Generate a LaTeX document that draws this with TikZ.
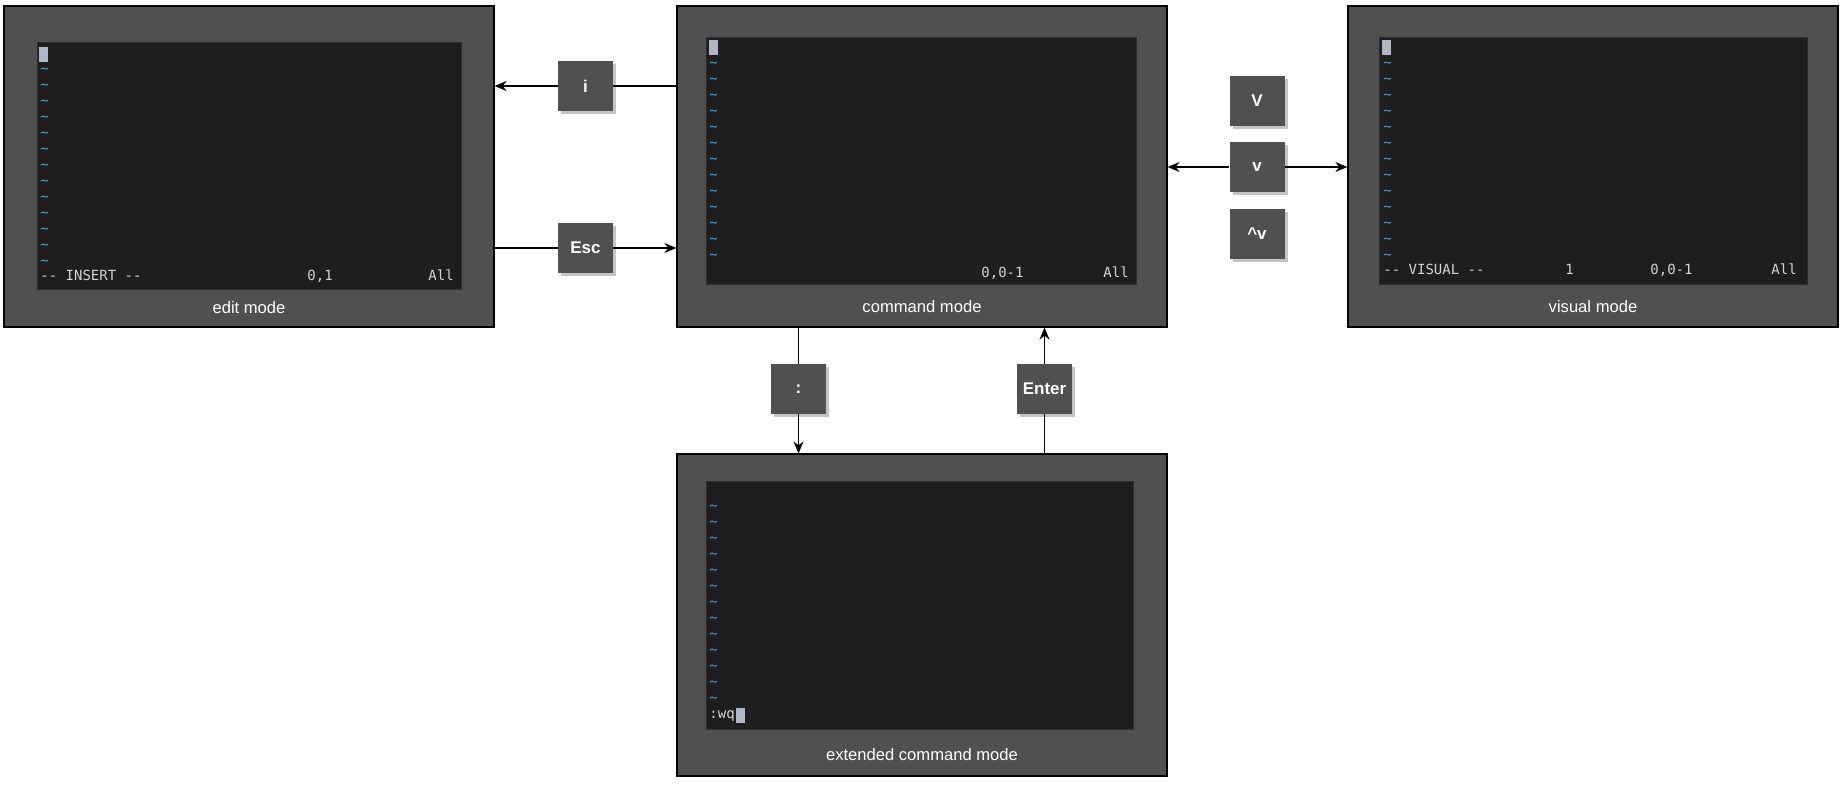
\documentclass[tikz,border=0pt]{standalone}
\usepackage{fontspec}
\setmainfont{Liberation Sans}
\newfontfamily\vimfont{DejaVu Sans Mono}
\usetikzlibrary{arrows.meta,positioning,shadows}
\definecolor{panel}{HTML}{505050}
\definecolor{screenbg}{HTML}{1E1E1E}
\definecolor{screenedge}{HTML}{2C2C2C}
\definecolor{tildeblue}{HTML}{569CD6}
\definecolor{vimtext}{HTML}{D4D4D4}
\definecolor{cursorgray}{HTML}{B4B4C8}
\definecolor{keyshadow}{HTML}{C4C4C4}

\begin{document}
\begin{tikzpicture}[x=0.5pt,y=-0.5pt]
\tikzstyle{modebox}=[rectangle, draw=black, fill=panel, line width=0.6pt,
	minimum width=245pt, minimum height=160.5pt, inner sep=0pt]
\tikzstyle{screenbox}=[rectangle, draw=screenedge, fill=screenbg, line width=0.5pt,
	minimum height=123.5pt, inner sep=0pt]
\tikzstyle{modelabel}=[text=white, inner sep=0pt, font=\fontsize{8.3}{10}\selectfont]
\tikzstyle{keybox}=[rectangle, fill=panel, text=white, minimum width=27.5pt,
	minimum height=25pt, inner sep=0pt, font=\fontsize{8.5}{10}\selectfont\bfseries,
	drop shadow={shadow xshift=1.5pt, shadow yshift=-1.5pt, fill=keyshadow, opacity=1}]
\tikzstyle{vimtxt}=[anchor=west, inner sep=0pt, text height=5pt, text depth=1.5pt,
	text=vimtext, font=\vimfont\fontsize{7}{8}\selectfont]
\tikzstyle{tildetxt}=[vimtxt, text=tildeblue]
\tikzstyle{plain}=[line width=0.6pt]
\tikzstyle{conn}=[plain, -{Stealth[length=6pt,width=5pt]}]
\useasboundingbox (0,0) rectangle (1844,786);

% the four vim windows
\node[modebox] (edit) at (249,166.5) {};
\node[modebox] (cmd) at (922,166.5) {};
\node[modebox] (vis) at (1593,166.5) {};
\node[modebox, minimum height=161pt] (ext) at (922,615) {};
\node[screenbox, minimum width=212pt] (editscr) at (249,166.5) {};
\node[screenbox, minimum width=215pt] (cmdscr) at (921,161.5) {};
\node[screenbox, minimum width=214pt] (visscr) at (1593,161.5) {};
\node[screenbox, minimum width=213.5pt] (extscr) at (919.5,605.5) {};
\node[modelabel] at ([yshift=10pt]edit.south) {edit mode};
\node[modelabel] at ([yshift=10.5pt]cmd.south) {command mode};
\node[modelabel] at ([yshift=10.5pt]vis.south) {visual mode};
\node[modelabel] at ([yshift=11pt]ext.south) {extended command mode};

% screen contents
\foreach \x/\y in {40/70, 709/64, 1383/64, 709/507}
	\foreach \k in {0,...,12}
		\node[tildetxt] at (\x,\y+16*\k) {\textasciitilde};
\foreach \x/\y in {39/47, 709/40, 1382/40}
	\fill[cursorgray] (\x,\y) rectangle +(9,15);
\node[vimtxt] at (40,277) {-- INSERT --};
\node[vimtxt] at (307,277) {0,1};
\node[vimtxt] at (428,277) {All};
\node[vimtxt] at (981,274) {0,0-1};
\node[vimtxt] at (1103,274) {All};
\node[vimtxt] at (1383,271) {-- VISUAL --};
\node[vimtxt] at (1565,271) {1};
\node[vimtxt] at (1650,271) {0,0-1};
\node[vimtxt] at (1771,271) {All};
\node[vimtxt] (wq) at (709,715) {:wq};
\fill[cursorgray] ([xshift=0.5pt]wq.east) ++(0,-7.5) rectangle +(9,15);

% keys
\node[keybox] (ikey) at (585.5,86) {i};
\node[keybox, below of=ikey, node distance=81pt] (esckey) {Esc};
\node[keybox] (vkey) at (1257,167) {v};
\node[keybox, above of=vkey, node distance=33pt] (Vkey) {V};
\node[keybox, below of=vkey, node distance=33.5pt] (ctrlvkey) {\textasciicircum v};
\node[keybox] (colonkey) at (798.5,389) {:};
\node[keybox, right of=colonkey, node distance=123pt] (enterkey) {Enter};

% transitions
\draw[plain] (cmd.west |- ikey) -- (ikey);
\draw[conn] (ikey) -- (edit.east |- ikey);
\draw[plain] (edit.east |- esckey) -- (esckey);
\draw[conn] (esckey) -- (cmd.west |- esckey);
\draw[conn] (vkey) -- (cmd.east |- vkey);
\draw[conn] (vkey) -- (vis.west |- vkey);
\draw[plain] (cmd.south -| colonkey) -- (colonkey);
\draw[conn] (colonkey) -- (ext.north -| colonkey);
\draw[plain] (ext.north -| enterkey) -- (enterkey);
\draw[conn] (enterkey) -- (cmd.south -| enterkey);

\end{tikzpicture}
\end{document}
